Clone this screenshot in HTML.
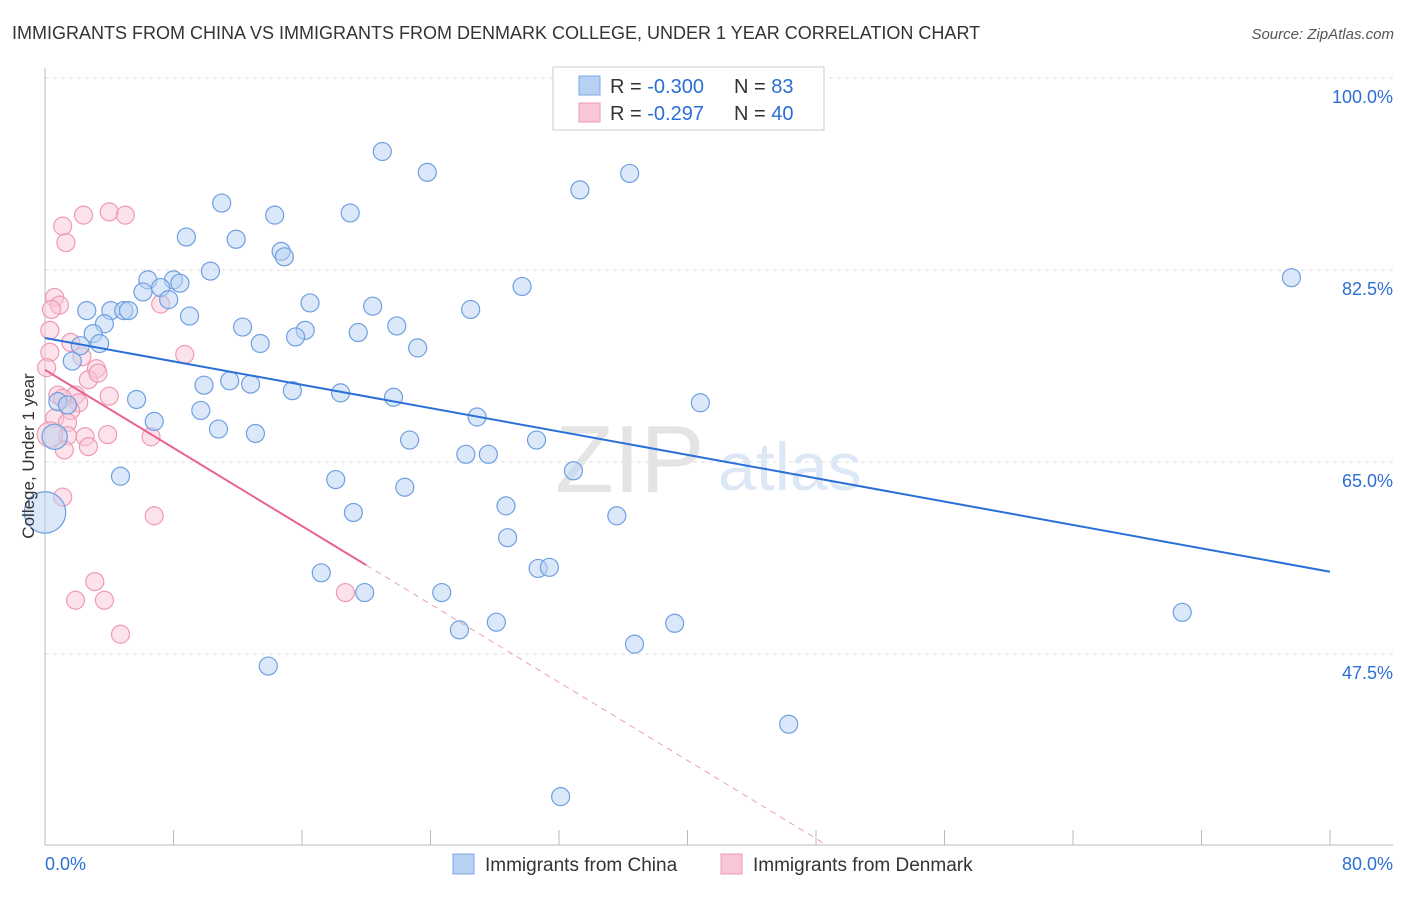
<!DOCTYPE html>
<html><head><meta charset="utf-8"><style>
body{margin:0;background:#fff;font-family:"Liberation Sans",sans-serif;}
svg text{font-family:"Liberation Sans",sans-serif;}
</style></head><body>
<svg id="chart" width="1406" height="892" viewBox="0 0 1406 892" xmlns="http://www.w3.org/2000/svg">
<text x="12" y="39" font-size="18" fill="#333">IMMIGRANTS FROM CHINA VS IMMIGRANTS FROM DENMARK COLLEGE, UNDER 1 YEAR CORRELATION CHART</text>
<text x="1394" y="39" font-size="15" fill="#555" text-anchor="end" font-style="italic">Source: ZipAtlas.com</text>
<g id="grid"></g>
<g id="axes"></g>
<text x="555" y="492" font-size="96" fill="#e4e4e4" font-family="Liberation Serif">ZIP</text>
<text x="718" y="490" font-size="68" fill="#dce8f6">atlas</text>
<g id="marks"></g>
<text transform="translate(34,456) rotate(-90)" font-size="17" fill="#333" text-anchor="middle">College, Under 1 year</text>
<g>
<rect x="553" y="67" width="271" height="63" fill="#fff" stroke="#ccc"/>
<rect x="579" y="76" width="21" height="19" fill="#b7d1f3" stroke="#7aa7e3"/>
<rect x="579" y="103" width="21" height="19" fill="#f9c6d6" stroke="#ef9ab5"/>
<text x="610" y="93" font-size="20" fill="#333">R = <tspan fill="#2c6fd6">-0.300</tspan></text>
<text x="734" y="93" font-size="20" fill="#333">N = <tspan fill="#2c6fd6"> 83</tspan></text>
<text x="610" y="120" font-size="20" fill="#333">R = <tspan fill="#2c6fd6"> -0.297</tspan></text>
<text x="734" y="120" font-size="20" fill="#333">N = <tspan fill="#2c6fd6">40</tspan></text>
</g>
<g>
<rect x="453" y="854" width="21" height="20" fill="#b7d1f3" stroke="#7aa7e3"/>
<text x="485" y="871" font-size="19" fill="#333">Immigrants from China</text>
<rect x="721" y="854" width="21" height="20" fill="#f9c6d6" stroke="#ef9ab5"/>
<text x="753" y="871" font-size="19" fill="#333">Immigrants from Denmark</text>
</g>
</svg>
<script>
const xTicks=[0,8,16,24,32,40,48,56,64,72,80];
const yTickVals=[100,82.5,65,47.5];
const yTickLabels=["100.0%","82.5%","65.0%","47.5%"];
const xEndLabels=["0.0%","80.0%"];
const chinaX=[21.0,23.8,36.4,33.3,11.0,19.0,14.3,8.8,11.9,14.7,14.9,10.3,77.6,6.4,8.0,8.4,29.7,6.1,7.2,7.7,16.5,20.4,2.6,4.1,4.9,5.2,26.5,9.0,3.7,12.3,21.9,16.2,19.5,3.0,15.6,13.4,3.4,2.2,23.2,1.7,11.5,9.9,12.8,15.4,18.4,21.7,5.7,0.8,1.4,40.8,9.7,26.9,6.8,10.8,13.1,30.6,22.7,27.6,26.2,32.9,4.7,18.1,22.4,28.7,19.2,35.6,28.8,30.7,31.4,17.2,19.9,24.7,28.1,25.8,39.2,36.7,70.8,13.9,46.3,32.1,0,0.6];
const chinaY=[93.3,91.4,91.3,89.8,88.6,87.7,87.5,85.5,85.3,84.2,83.7,82.4,81.8,81.6,81.6,81.3,81.0,80.5,80.9,79.8,79.5,79.2,78.8,78.8,78.8,78.8,78.9,78.3,77.6,77.3,77.4,77.0,76.8,76.7,76.4,75.8,75.8,75.6,75.4,74.2,72.4,72.0,72.1,71.5,71.3,70.9,70.7,70.5,70.2,70.4,69.7,69.1,68.7,68.0,67.6,67.0,67.0,65.7,65.7,64.2,63.7,63.4,62.7,61.0,60.4,60.1,58.1,55.3,55.4,54.9,53.1,53.1,50.4,49.7,50.3,48.4,51.3,46.4,41.1,34.5,60.4,67.3];
const chinaSize=[1,1,1,1,1,1,1,1,1,1,1,1,1,1,1,1,1,1,1,1,1,1,1,1,1,1,1,1,1,1,1,1,1,1,1,1,1,1,1,1,1,1,1,1,1,1,1,1,1,1,1,1,1,1,1,1,1,1,1,1,1,1,1,1,1,1,1,1,1,1,1,1,1,1,1,1,1,1,1,1,2.3,1.4];
const denX=[1.1,2.4,4.0,5.0,1.3,0.6,0.9,0.4,0.3,7.2,1.6,2.3,8.7,0.3,0.1,3.2,2.7,3.3,0.8,4.0,1.9,1.1,2.1,1.6,0.6,1.4,1.4,2.5,3.9,6.6,2.7,1.2,1.1,6.8,3.1,1.9,3.7,4.7,18.7,0.3];
const denY=[86.5,87.5,87.8,87.5,85.0,80.0,79.3,78.9,77.0,79.4,75.9,74.6,74.8,75.0,73.6,73.5,72.5,73.1,71.1,71.0,71.1,70.8,70.4,69.7,69.0,68.6,67.4,67.3,67.5,67.3,66.4,66.1,61.8,60.1,54.1,52.4,52.4,49.3,53.1,67.5];
const denSize=[1,1,1,1,1,1,1,1,1,1,1,1,1,1,1,1,1,1,1,1,1,1,1,1,1,1,1,1,1,1,1,1,1,1,1,1,1,1,1,1.4];
const chinaTrend=[76.3,55.0];
const denTrend=[73.4,-0.89];
const denSolidEnd=20;
const X0=45,X1=1330,Y100=78,PX_PER=192/17.5,YMIN=30.1;
const sx=v=>X0+(v/80)*(X1-X0);
const sy=v=>Y100+(100-v)*PX_PER;
const NS="http://www.w3.org/2000/svg";
function mk(t,a,p){const e=document.createElementNS(NS,t);for(const k in a)e.setAttribute(k,a[k]);p.appendChild(e);return e;}
const grid=document.getElementById('grid'),axes=document.getElementById('axes'),marks=document.getElementById('marks');
yTickVals.forEach((v,i)=>{
  const l=mk('line',{x1:45,x2:1393,y1:sy(v),y2:sy(v),stroke:'#ddd','stroke-dasharray':'4,4'},grid);
  
  
  const t=mk('text',{x:1393,y:sy(v)+25,'font-size':18,fill:'#2c6fd6','text-anchor':'end'},axes);
  t.textContent=yTickLabels[i];
  
  
});
const ax=mk('line',{x1:45,x2:45,y1:68,y2:845,stroke:'#bbb'},axes);


const bx=mk('line',{x1:45,x2:1393,y1:845,y2:845,stroke:'#bbb'},axes);


xTicks.forEach(v=>{
  const t=mk('line',{x1:sx(v),x2:sx(v),y1:830,y2:845,stroke:'#bbb'},axes);
  
  
});
[[0,xEndLabels[0],'start',45],[80,xEndLabels[1],'end',1393]].forEach(([v,s,a,x])=>{
  const t=mk('text',{x:x,y:870,'font-size':18,fill:'#2c6fd6','text-anchor':a},axes);
  t.textContent=s;
  
  
});
function pts(X,Y,S,fill,stroke,name){
  X.forEach((x,i)=>{
    const c=mk('circle',{cx:sx(x),cy:sy(Y[i]),r:9*S[i],fill:fill,'fill-opacity':0.5,stroke:stroke,'stroke-width':1.2},marks);
    
    
  });
}
pts(denX,denY,denSize,'#f9c6d6','#ef9ab5','point-denmark');
pts(chinaX,chinaY,chinaSize,'#b7d1f3','#6f9fe0','point-china');
const bl=mk('line',{x1:sx(0),y1:sy(chinaTrend[0]),x2:sx(80),y2:sy(chinaTrend[1]),stroke:'#2a70d8','stroke-width':2},marks);


const dy=x=>denTrend[0]+denTrend[1]*x;
const pl=mk('line',{x1:sx(0),y1:sy(dy(0)),x2:sx(denSolidEnd),y2:sy(dy(denSolidEnd)),stroke:'#e8638e','stroke-width':2},marks);


const xEnd=(YMIN-denTrend[0])/denTrend[1];
const pd=mk('line',{x1:sx(denSolidEnd),y1:sy(dy(denSolidEnd)),x2:sx(xEnd),y2:sy(YMIN),stroke:'#e8a0b8','stroke-width':1,'stroke-dasharray':'6,5'},marks);


</script>
</body></html>
